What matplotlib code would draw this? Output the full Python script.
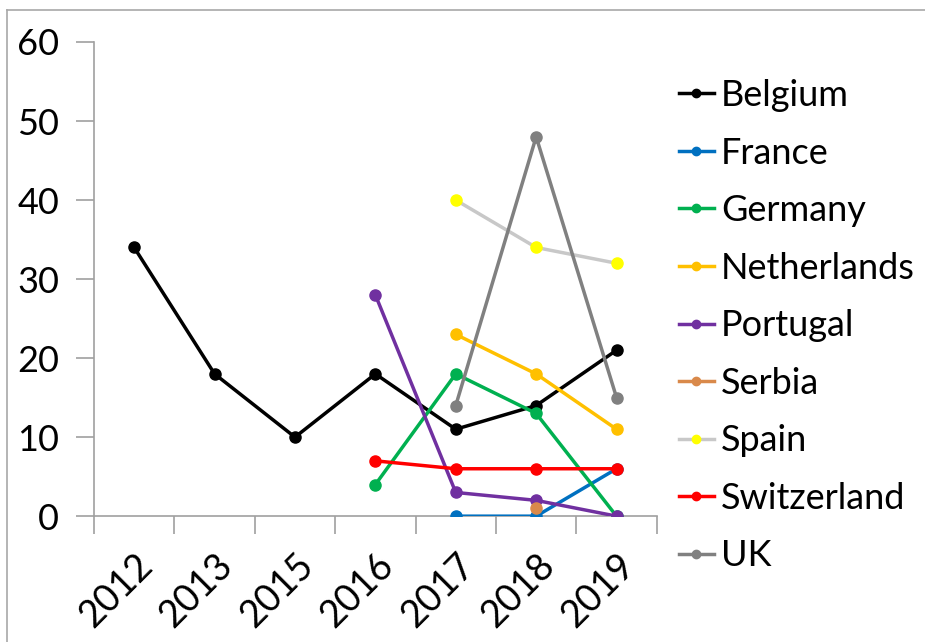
import matplotlib
matplotlib.use("Agg")
import matplotlib.pyplot as plt
from matplotlib.lines import Line2D
import numpy as np

plt.rcParams.update({"font.family": ["Lato", "DejaVu Sans"]})

years = ["2012", "2013", "2015", "2016", "2017", "2018", "2019"]
nan = np.nan
belgium = [34, 18, 10, 18, 11, 14, 21]
france = [nan, nan, nan, nan, 0, 0, 6]
germany = [nan, nan, nan, 4, 18, 13, 0]
netherlands = [nan, nan, nan, nan, 23, 18, 11]
portugal = [nan, nan, nan, 28, 3, 2, 0]
serbia = [nan, nan, nan, nan, nan, 1, nan]
spain = [nan, nan, nan, nan, 40, 34, 32]
switzerland = [nan, nan, nan, 7, 6, 6, 6]
uk = [nan, nan, nan, nan, 14, 48, 15]

series = [
    ("Belgium", belgium, "#000000", "#000000"),
    ("France", france, "#0070C0", "#0070C0"),
    ("Germany", germany, "#00B050", "#00B050"),
    ("Netherlands", netherlands, "#FFC000", "#FFC000"),
    ("Portugal", portugal, "#7030A0", "#7030A0"),
    ("Serbia", serbia, "#D9894A", "#D9894A"),
    ("Spain", spain, "#C8C8C8", "#FFFF00"),
    ("Switzerland", switzerland, "#FF0000", "#FF0000"),
    ("UK", uk, "#808080", "#808080"),
]

fig = plt.figure(figsize=(9.25, 6.42), dpi=100)
fig.patch.set_facecolor("white")
ax = fig.add_axes([0.1016, 0.196, 0.6084, 0.7386])
x = np.arange(len(years))
for name, vals, lc, mc in series:
    ax.plot(x, vals, color=lc, lw=2.5, marker="o", ms=8, mfc=mc, mec=mc,
            label=name, zorder=3)

ax.set_xlim(-0.5, len(years) - 0.5)
ax.set_ylim(0, 60)
ax.set_yticks(range(0, 61, 10))
ax.set_xticks(np.arange(len(years) + 1) - 0.5, minor=True)
ax.set_xticks(x)
ax.set_xticklabels(years, rotation=45, ha="right", rotation_mode="anchor")
ax.tick_params(axis="x", which="major", length=0, labelsize=27, pad=22)
ax.tick_params(axis="x", which="minor", length=13, color="#A0A0A0", width=1.2)
ax.tick_params(axis="y", length=13, color="#A0A0A0", width=1.2, labelsize=26, pad=12)
for s in ("top", "right"):
    ax.spines[s].set_visible(False)
for s in ("left", "bottom"):
    ax.spines[s].set_color("#A0A0A0")
    ax.spines[s].set_linewidth(1.2)

ax.legend(loc="upper left", bbox_to_anchor=(1.04, 0.922), frameon=False,
          fontsize=26, handlelength=0.95, handletextpad=0.2, labelspacing=0.68,
          borderaxespad=0, borderpad=0, markerscale=0.75)

# outer chart frame (top and left edges only visible in the image)
fig.add_artist(Line2D([0.0076, 1.0], [0.984, 0.984], transform=fig.transFigure,
                      color="#A8A8A8", lw=1.2))
fig.add_artist(Line2D([0.0076, 0.0076], [0.0, 0.984], transform=fig.transFigure,
                      color="#A8A8A8", lw=1.2))

fig.savefig("out.png", dpi=100, facecolor="white")
